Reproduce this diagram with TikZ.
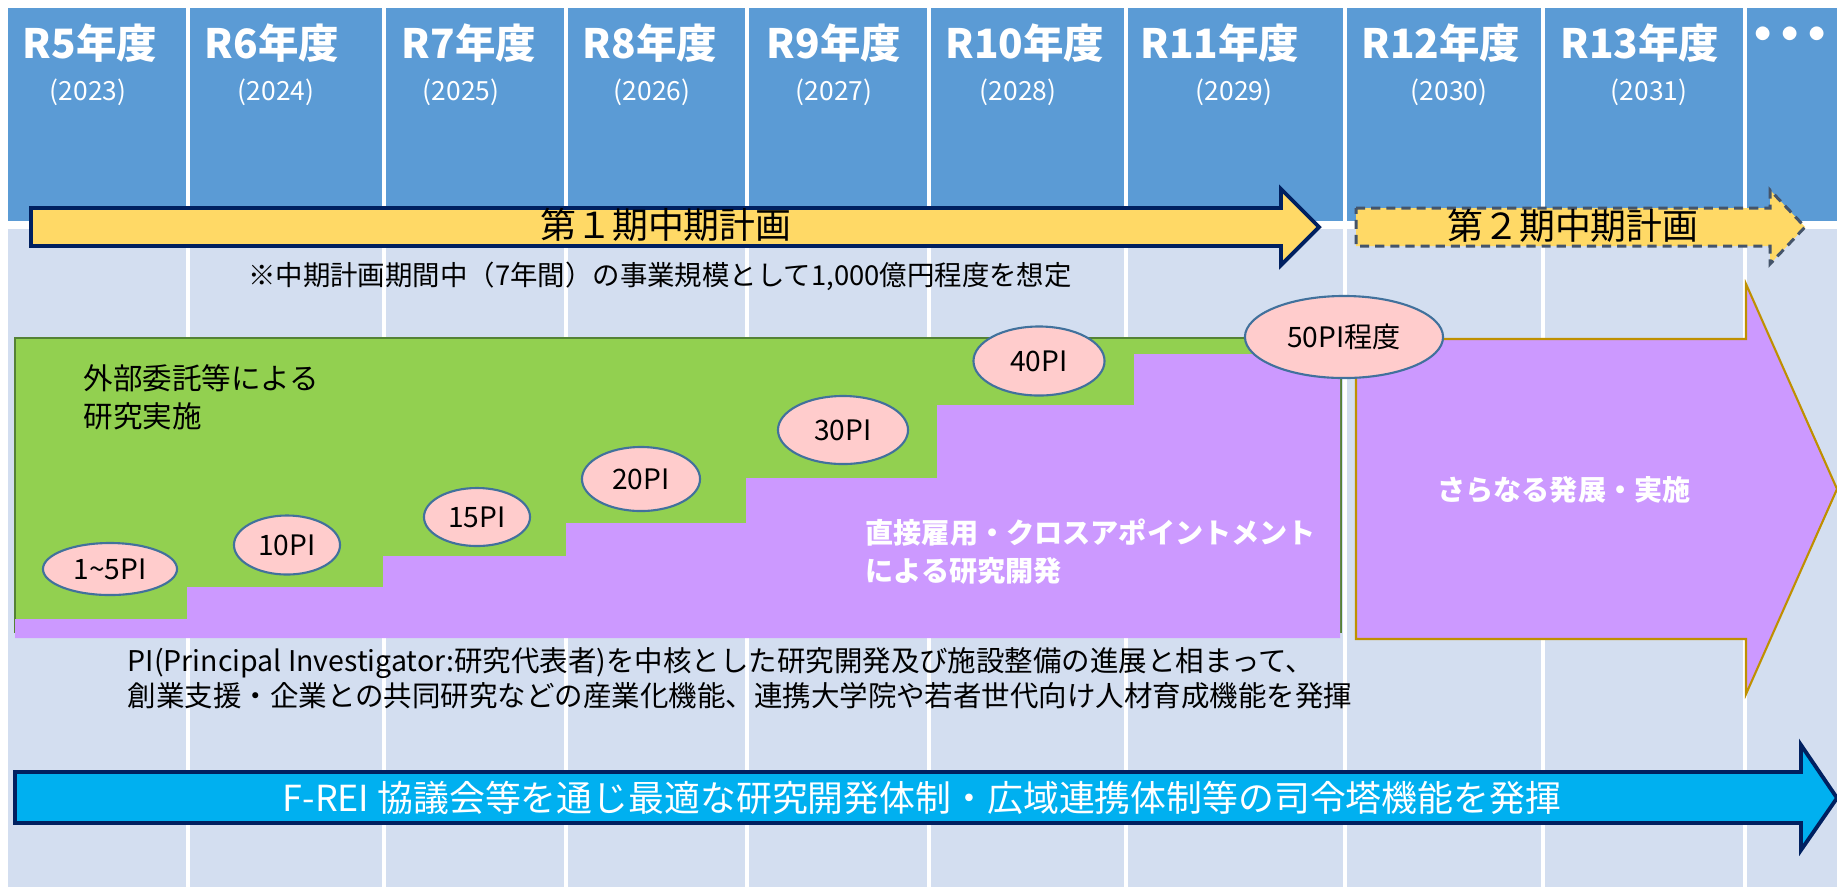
\documentclass[tikz,border=0pt]{standalone}
\usepackage{fontspec}
\setmainfont{Noto Sans CJK JP}
\usetikzlibrary{shapes.geometric}

\definecolor{headblue}{HTML}{5B9BD5}
\definecolor{paleblue}{HTML}{D3DEF0}
\definecolor{planyellow}{HTML}{FFD966}
\definecolor{navy}{HTML}{002060}
\definecolor{slate}{HTML}{44546A}
\definecolor{leafgreen}{HTML}{92D050}
\definecolor{darkgreen}{HTML}{548235}
\definecolor{lilac}{HTML}{CC99FF}
\definecolor{pinkfill}{HTML}{FFCCCC}
\definecolor{steel}{HTML}{41719C}
\definecolor{gold}{HTML}{BF9000}
\definecolor{cyanfill}{HTML}{00B0F0}

\begin{document}
\begin{tikzpicture}[x=0.01cm, y=-0.01cm,
	yearhead/.style={text=white, inner sep=0pt, font=\fontsize{11.5}{13}\selectfont\bfseries},
	yearsub/.style={text=white, inner sep=0pt, font=\fontsize{7.5}{9}\selectfont},
	colline/.style={draw=white, line width=0.9pt},
	pibubble/.style={shape=ellipse, draw=steel, line width=0.6pt, fill=pinkfill, inner sep=0pt, font=\fontsize{8}{9.6}\selectfont},
	plain/.style={inner sep=0pt, align=left}
	]
	
	\useasboundingbox[fill=white] (0,0) rectangle (1837,887);
	
	% header and background
	\fill[headblue] (8,8) rectangle (1837,221);
	\fill[paleblue] (8,229) rectangle (1837,887);
	
	\draw[colline] (188,8) -- (188,887);
	\draw[colline] (384,8) -- (384,887);
	\draw[colline] (566,8) -- (566,887);
	\draw[colline] (747,8) -- (747,887);
	\draw[colline] (929,8) -- (929,887);
	\draw[colline] (1126,8) -- (1126,887);
	\draw[colline] (1345,8) -- (1345,887);
	\draw[colline] (1543,8) -- (1543,887);
	\draw[colline] (1745,8) -- (1745,887);
	
	\node[yearhead] (r5) at (90,43)     {R5年度};
	\node[yearhead] (r6) at (272,43)    {R6年度};
	\node[yearhead] (r7) at (469,43)    {R7年度};
	\node[yearhead] (r8) at (650,43)    {R8年度};
	\node[yearhead] (r9) at (834,43)    {R9年度};
	\node[yearhead] (r10) at (1025,43)  {R10年度};
	\node[yearhead] (r11) at (1220,43)  {R11年度};
	\node[yearhead] (r12) at (1441,43)  {R12年度};
	\node[yearhead] (r13) at (1640,43)  {R13年度};
	\node[yearhead, anchor=west, font=\fontsize{14}{16}\selectfont\bfseries] (more) at (1738,40) {・\kern-0.45em・\kern-0.45em・\kern-0.3em};
	
	\node[yearsub] (y5) at (88,92)     {(2023)};
	\node[yearsub] (y6) at (276,92)    {(2024)};
	\node[yearsub] (y7) at (461,92)    {(2025)};
	\node[yearsub] (y8) at (652,92)    {(2026)};
	\node[yearsub] (y9) at (834,92)    {(2027)};
	\node[yearsub] (y10) at (1018,92)  {(2028)};
	\node[yearsub] (y11) at (1234,92)  {(2029)};
	\node[yearsub] (y12) at (1449,92)  {(2030)};
	\node[yearsub] (y13) at (1649,92)  {(2031)};
	
	% plan arrows
	\draw[fill=planyellow, draw=navy, line width=1.1pt] (31,208) -- (1281,208) -- (1281,189) -- (1319,227) -- (1281,265) -- (1281,246) -- (31,246) -- cycle;
	\draw[fill=planyellow, draw=slate, line width=0.85pt, dash pattern=on 2.6pt off 1.7pt] (1356,208) -- (1770,208) -- (1770,190) -- (1805,227) -- (1770,264) -- (1770,246) -- (1356,246) -- cycle;
	\node[plain, font=\fontsize{10.2}{12}\selectfont] (plan1) at (666,225)  {第１期中期計画};
	\node[plain, font=\fontsize{10.2}{12}\selectfont] (plan2) at (1573,226) {第２期中期計画};
	\node[plain, font=\fontsize{7.8}{9}\selectfont] (budget) at (660,276) {※中期計画期間中（7年間）の事業規模として1,000億円程度を想定};
	
	% research steps
	\draw[fill=leafgreen, draw=darkgreen, line width=0.4pt] (15,338) rectangle (1341,632);
	\fill[lilac] (15,638) -- (15,619) -- (187,619) -- (187,587) -- (383,587) -- (383,556) -- (566,556) -- (566,523) -- (746,523) -- (746,478) -- (937,478) -- (937,405) -- (1134,405) -- (1134,354) -- (1340,354) -- (1340,638) -- cycle;
	
	\node[plain, anchor=west, font=\fontsize{8.4}{10.8}\selectfont] (outside) at (83,397) {外部委託等による\\研究実施};
	\node[plain, anchor=west, text=white, font=\fontsize{8}{10.8}\selectfont\bfseries] (direct) at (865,552) {直接雇用・クロスアポイントメント\\による研究開発};
	
	% next stage arrow
	\draw[fill=lilac, draw=gold, line width=0.6pt] (1356,339) -- (1746,339) -- (1746,284) -- (1837,489) -- (1746,694) -- (1746,639) -- (1356,639) -- cycle;
	\node[plain, text=white, font=\fontsize{8}{10}\selectfont\bfseries] (further) at (1564,490) {さらなる発展・実施};
	
	\node[pibubble, minimum width=1.34cm, minimum height=0.52cm] (pi1) at (110,569)   {1\textasciitilde 5PI};
	\node[pibubble, minimum width=1.06cm, minimum height=0.59cm] (pi10) at (287,545)  {10PI};
	\node[pibubble, minimum width=1.06cm, minimum height=0.58cm] (pi15) at (477,517)  {15PI};
	\node[pibubble, minimum width=1.18cm, minimum height=0.64cm] (pi20) at (641,479)  {20PI};
	\node[pibubble, minimum width=1.30cm, minimum height=0.68cm] (pi30) at (843,430)  {30PI};
	\node[pibubble, minimum width=1.31cm, minimum height=0.69cm] (pi40) at (1039,361) {40PI};
	\node[pibubble, minimum width=1.98cm, minimum height=0.82cm] (pi50) at (1344,337) {50PI程度};
	
	\node[plain, anchor=west, font=\fontsize{8.1}{10}\selectfont] (functions) at (127,678) {PI(Principal Investigator:研究代表者)を中核とした研究開発及び施設整備の進展と相まって、\\創業支援・企業との共同研究などの産業化機能、連携大学院や若者世代向け人材育成機能を発揮};
	
	% command arrow
	\draw[fill=cyanfill, draw=navy, line width=1.1pt] (15,772) -- (1801,772) -- (1801,745) -- (1837,798) -- (1801,850) -- (1801,823) -- (15,823) -- cycle;
	\node[plain, text=white, font=\fontsize{10.2}{12}\selectfont] (command) at (922,798) {F-REI 協議会等を通じ最適な研究開発体制・広域連携体制等の司令塔機能を発揮};
	
\end{tikzpicture}
\end{document}
